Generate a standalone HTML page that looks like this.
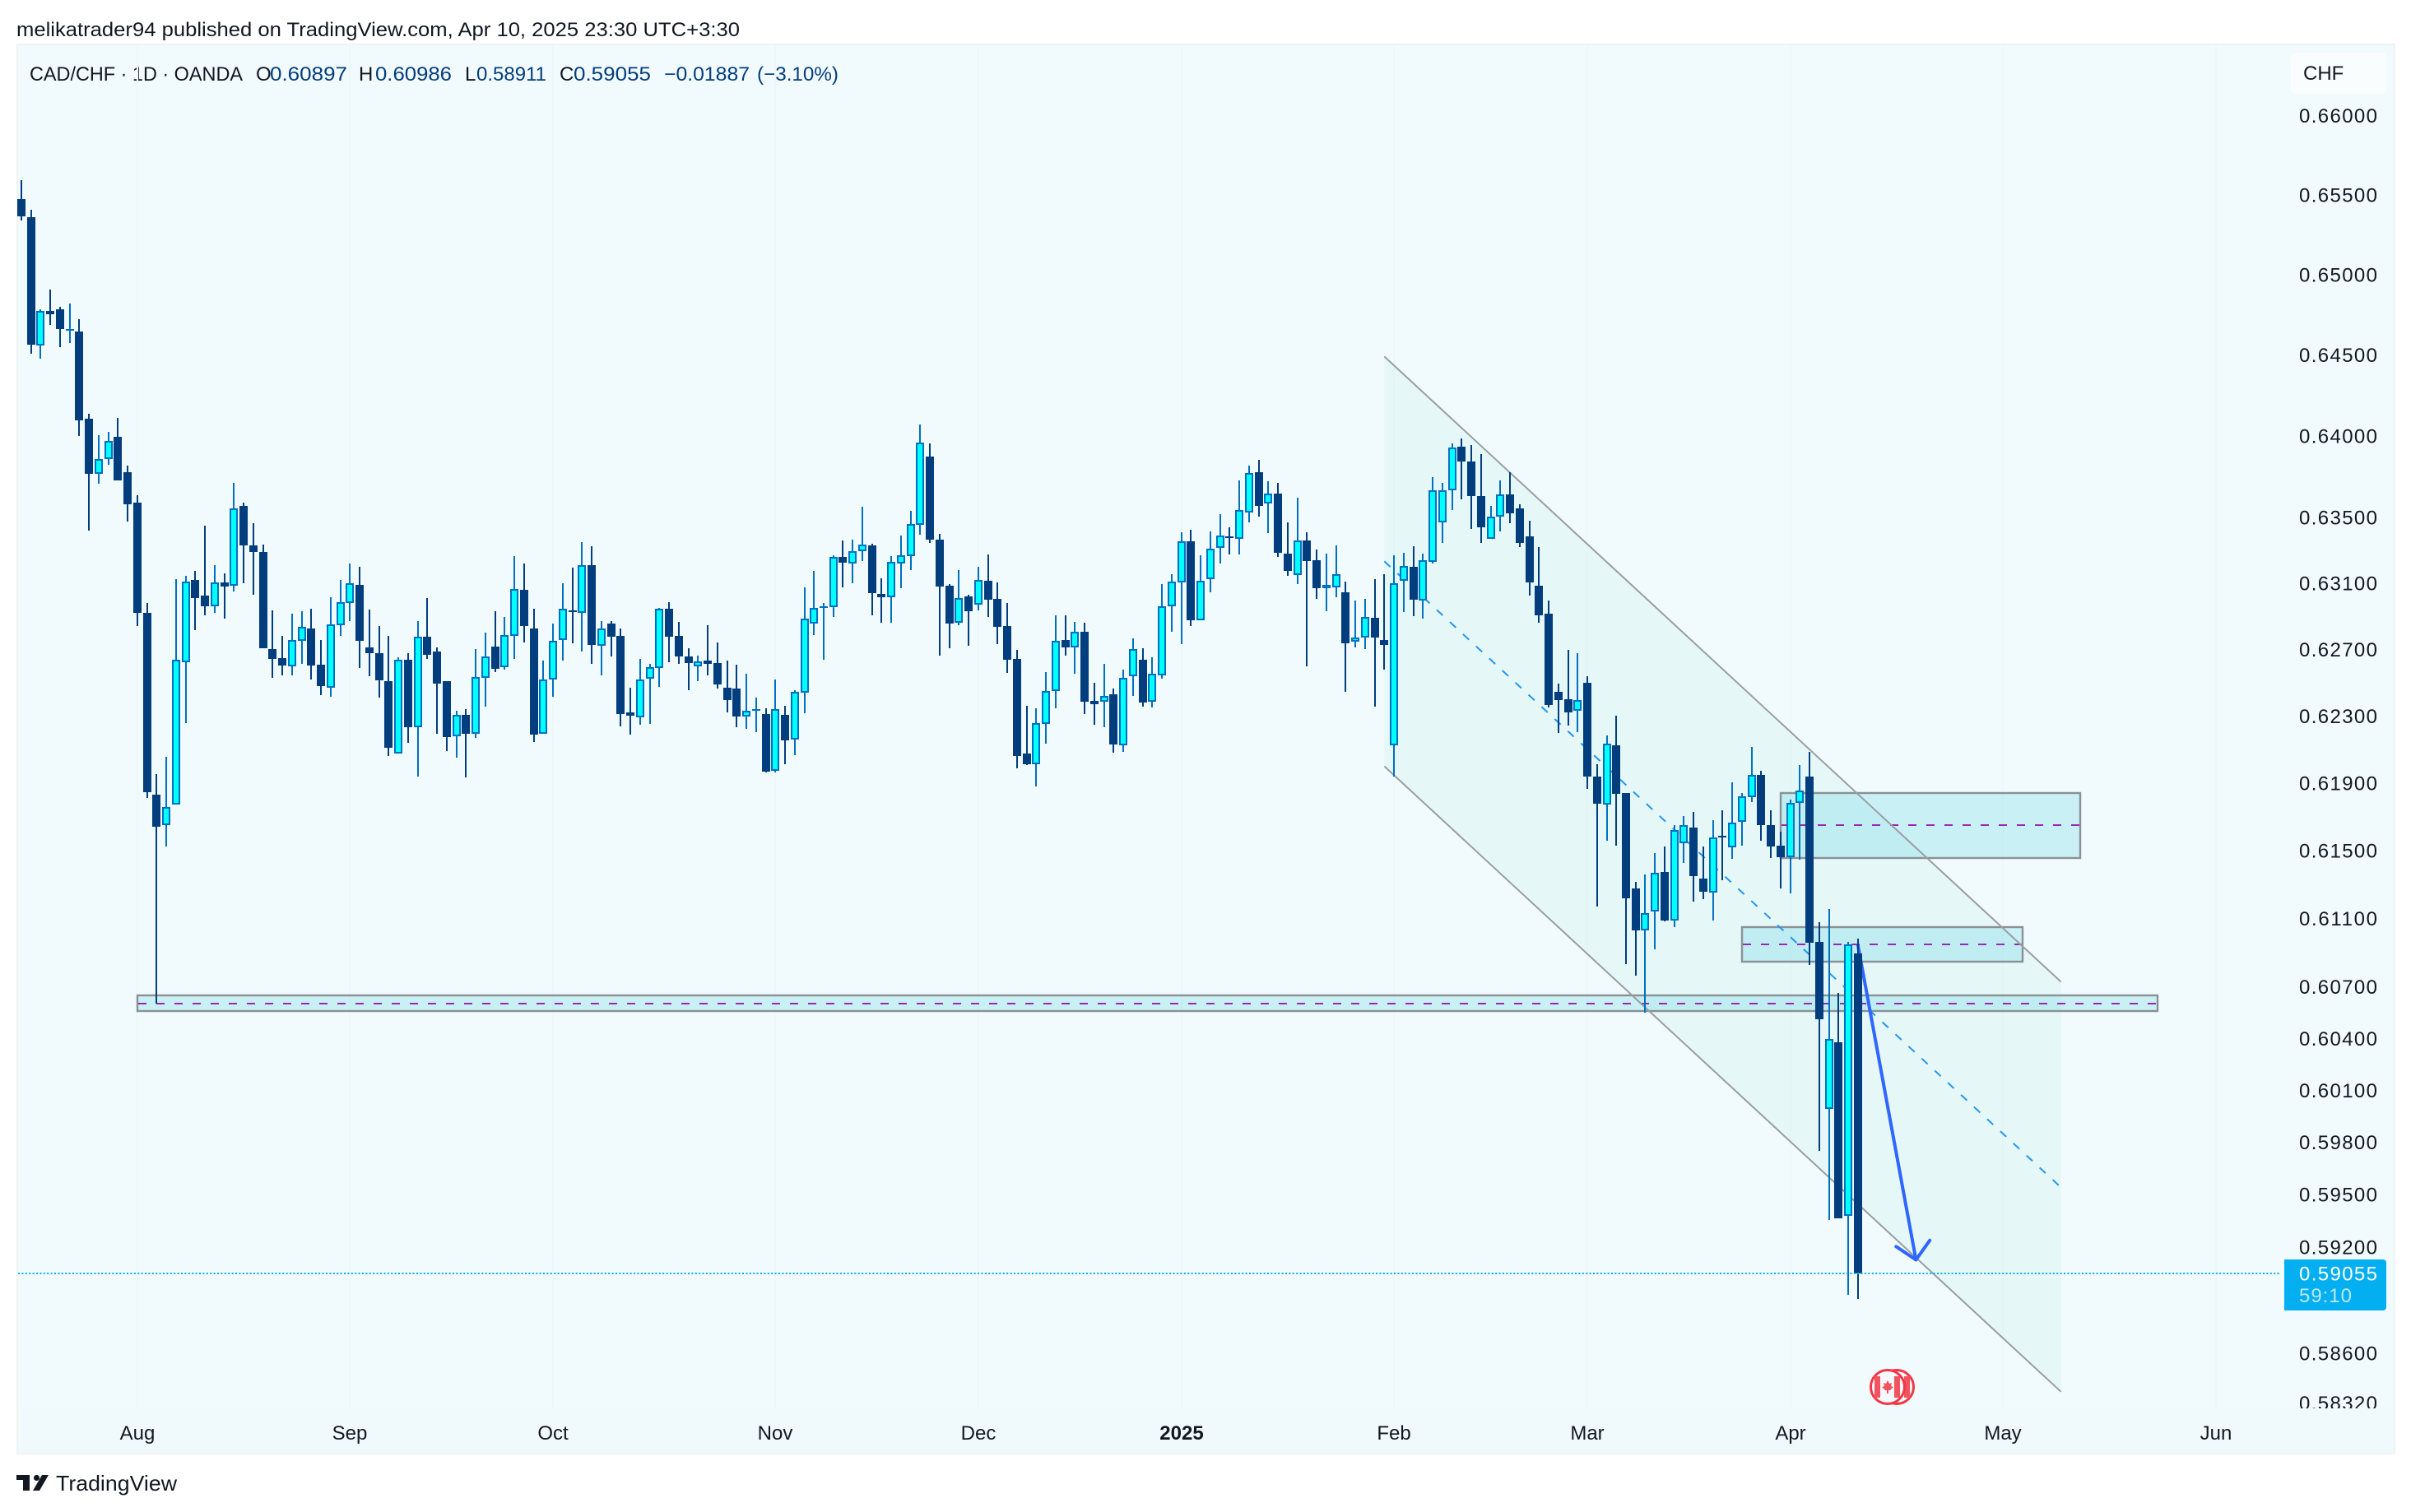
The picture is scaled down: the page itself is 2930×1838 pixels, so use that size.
<!DOCTYPE html>
<html lang="en">
<head>
<meta charset="utf-8">
<title>CAD/CHF 1D chart</title>
<style>
html,body{margin:0;padding:0;background:#fff;}
svg{display:block;font-family:"Liberation Sans",sans-serif;}
</style>
</head>
<body>
<svg id="chart" xmlns="http://www.w3.org/2000/svg" width="2930" height="1838" viewBox="0 0 2930 1838">
  <defs>
    <clipPath id="pane-clip"><rect x="20" y="53" width="2891" height="1659"/></clipPath>
  </defs>
  <rect x="0" y="0" width="2930" height="1838" fill="#ffffff"/>
  <rect x="21" y="54" width="2889" height="1713" fill="#F0F9FB" stroke="#EEF4F5" stroke-width="2"/>
  <rect x="22" y="55" width="2887" height="1657" fill="#F1FAFC"/>
  <text x="20" y="44" font-size="24" fill="#131722" textLength="879" lengthAdjust="spacingAndGlyphs">melikatrader94 published on TradingView.com, Apr 10, 2025 23:30 UTC+3:30</text>

  <g font-size="24">
    <text x="36" y="98" fill="#131722" textLength="259" lengthAdjust="spacingAndGlyphs">CAD/CHF · 1D · OANDA</text>
    <text x="311" y="98" fill="#131722">O</text>
    <text x="328" y="98" fill="#033E7E" textLength="94" lengthAdjust="spacingAndGlyphs">0.60897</text>
    <text x="436" y="98" fill="#131722">H</text>
    <text x="456" y="98" fill="#033E7E" textLength="93" lengthAdjust="spacingAndGlyphs">0.60986</text>
    <text x="565" y="98" fill="#131722">L</text>
    <text x="579" y="98" fill="#033E7E" textLength="85" lengthAdjust="spacingAndGlyphs">0.58911</text>
    <text x="680" y="98" fill="#131722">C</text>
    <text x="697" y="98" fill="#033E7E" textLength="94" lengthAdjust="spacingAndGlyphs">0.59055</text>
    <text x="807" y="98" fill="#033E7E" textLength="104" lengthAdjust="spacingAndGlyphs">−0.01887</text>
    <text x="920" y="98" fill="#033E7E" textLength="99" lengthAdjust="spacingAndGlyphs">(−3.10%)</text>
  </g>

  <g id="grid-layer"></g>
  <g id="drawing-layer" clip-path="url(#pane-clip)"></g>
  <g id="candle-layer" shape-rendering="crispEdges"></g>
  <g id="axis-layer" font-size="24" fill="#131722"></g>

  <rect x="2784" y="64" width="116" height="50" rx="6" fill="#F9FDFE"/>
  <text x="2799" y="97" font-size="24" fill="#131722">CHF</text>

  <g>
    <circle cx="2305" cy="1686" r="20.5" fill="#F7F9FD" stroke="#F23645" stroke-width="3"/>
    <rect x="2314" y="1673" width="7" height="26" fill="#F2545F"/>
    <circle cx="2294" cy="1686" r="20.5" fill="#F7F9FD" stroke="#F23645" stroke-width="3"/>
    <rect x="2278" y="1673" width="7" height="26" fill="#F2545F"/>
    <rect x="2302" y="1673" width="7" height="26" fill="#F2545F"/>
    <polygon points="2294,1678 2296,1682 2299,1681 2298,1685 2301,1686 2297,1690 2295,1690 2295,1694 2293,1694 2293,1690 2291,1690 2287,1686 2290,1685 2289,1681 2292,1682" fill="#F2545F"/>
  </g>

  <g>
    <path d="M20 1793H36V1812H28V1799H20Z" fill="#131722"/>
    <circle cx="44.5" cy="1796.5" r="3.6" fill="#131722"/>
    <path d="M51 1793H59L48 1812H40Z" fill="#131722"/>
    <text x="68" y="1812" font-size="26" fill="#131722" textLength="147" lengthAdjust="spacingAndGlyphs">TradingView</text>
  </g>
</svg>

<script>
const opens = [
0.65475,0.65361,0.64559,0.64774,0.64784,0.64656,0.64646,0.64107,0.63768,0.63859,
0.63995,0.63778,0.63592,0.62922,0.61832,0.61655,0.61773,0.62628,0.63121,0.63026,
0.62962,0.63106,0.63086,0.63572,0.63331,0.63291,0.62703,0.62653,0.62599,0.62753,
0.62827,0.62609,0.62475,0.62847,0.62982,0.63091,0.62713,0.62678,0.62510,0.62077,
0.62643,0.62234,0.62778,0.62688,0.62510,0.62180,0.62308,0.62199,0.62530,0.62718,
0.62594,0.62787,0.63061,0.62827,0.62195,0.62520,0.62758,0.62937,0.62922,0.63211,
0.62723,0.62857,0.62787,0.62323,0.62293,0.62525,0.62589,0.62947,0.62783,0.62663,
0.62599,0.62638,0.62623,0.62471,0.62466,0.62298,0.62333,0.62313,0.61974,0.62308,
0.62160,0.62441,0.62857,0.62952,0.62957,0.63262,0.63221,0.63296,0.63331,0.63036,
0.63017,0.63221,0.63266,0.63457,0.63874,0.63366,0.63086,0.62862,0.63021,0.62972,
0.63116,0.63007,0.62842,0.62648,0.62077,0.62013,0.62258,0.62451,0.62758,0.62713,
0.62807,0.62392,0.62387,0.62431,0.62126,0.62540,0.62643,0.62387,0.62545,0.62962,
0.63106,0.63356,0.62877,0.63126,0.63316,0.63386,0.63371,0.63532,0.63778,0.63587,
0.63647,0.63281,0.63151,0.63361,0.63241,0.63071,0.63076,0.63046,0.62748,0.62773,
0.62892,0.62758,0.62126,0.63116,0.63201,0.62997,0.63231,0.63472,0.63667,0.63935,
0.63844,0.63632,0.63371,0.63507,0.63642,0.63557,0.63386,0.63086,0.62917,0.62446,
0.62402,0.62333,0.62500,0.61940,0.61773,0.62126,0.61842,0.61277,0.61031,0.61146,
0.61374,0.61093,0.61544,0.61641,0.61335,0.61253,0.61592,0.61520,0.61675,0.61817,
0.61949,0.61655,0.61534,0.61466,0.61783,0.61940,0.60963,0.59993,0.60378,0.59383,
0.60897];
const highs = [
0.65594,0.65407,0.64784,0.64908,0.64800,0.64820,0.64723,0.64137,0.64005,0.64026,
0.64112,0.63819,0.63637,0.62982,0.61954,0.62057,0.63126,0.63146,0.63176,0.63452,
0.63212,0.63162,0.63713,0.63592,0.63467,0.63336,0.62937,0.62783,0.62917,0.62932,
0.62947,0.62758,0.63017,0.63121,0.63221,0.63202,0.62942,0.62842,0.62787,0.62658,
0.62678,0.62872,0.63012,0.62713,0.62510,0.62333,0.62343,0.62703,0.62802,0.62932,
0.62897,0.63267,0.63222,0.62947,0.62638,0.62857,0.63101,0.63196,0.63351,0.63326,
0.62872,0.62872,0.62827,0.62475,0.62648,0.62618,0.62952,0.62987,0.62867,0.62708,
0.62668,0.62847,0.62743,0.62638,0.62609,0.62559,0.62411,0.62347,0.62520,0.62362,
0.62456,0.63076,0.63176,0.62982,0.63272,0.63361,0.63366,0.63567,0.63341,0.63131,
0.63266,0.63391,0.63542,0.64071,0.63955,0.63402,0.63096,0.63181,0.63031,0.63201,
0.63277,0.63106,0.62982,0.62698,0.62362,0.62347,0.62569,0.62907,0.62907,0.62867,
0.62862,0.62500,0.62618,0.62466,0.62579,0.62772,0.62708,0.62658,0.63096,0.63156,
0.63412,0.63427,0.63272,0.63417,0.63522,0.63442,0.63728,0.63819,0.63854,0.63723,
0.63713,0.63472,0.63622,0.63412,0.63306,0.63281,0.63331,0.63111,0.62997,0.63007,
0.63126,0.63156,0.63272,0.63287,0.63326,0.63281,0.63748,0.63713,0.63955,0.63985,
0.63945,0.63889,0.63572,0.63728,0.63778,0.63582,0.63482,0.63321,0.62997,0.62495,
0.62698,0.62678,0.62540,0.62013,0.62185,0.62303,0.61842,0.61316,0.61360,0.61486,
0.61525,0.61655,0.61709,0.61729,0.61525,0.61685,0.61739,0.61905,0.61846,0.62116,
0.61974,0.61743,0.61612,0.61807,0.62008,0.62091,0.61079,0.61156,0.60665,0.60963,
0.60986];
const lows = [
0.65340,0.64508,0.64478,0.64687,0.64549,0.64579,0.64000,0.63422,0.63708,0.63824,
0.63728,0.63477,0.62842,0.61812,0.60607,0.61525,0.61773,0.62263,0.62817,0.62907,
0.62922,0.62887,0.63051,0.63101,0.63031,0.62708,0.62530,0.62549,0.62549,0.62618,
0.62520,0.62426,0.62416,0.62787,0.62872,0.62589,0.62540,0.62411,0.62062,0.62077,
0.62145,0.61944,0.62648,0.62199,0.62096,0.62052,0.61935,0.62170,0.62357,0.62569,
0.62579,0.62648,0.62743,0.62150,0.62195,0.62416,0.62638,0.62738,0.62688,0.62618,
0.62545,0.62663,0.62239,0.62190,0.62249,0.62254,0.62480,0.62628,0.62614,0.62456,
0.62510,0.62549,0.62466,0.62323,0.62234,0.62224,0.62209,0.61964,0.61964,0.62013,
0.62067,0.62318,0.62792,0.62643,0.62897,0.63076,0.63101,0.63236,0.62907,0.62862,
0.62862,0.63071,0.63181,0.63396,0.63346,0.62668,0.62708,0.62847,0.62723,0.62937,
0.62897,0.62733,0.62564,0.61989,0.62008,0.61881,0.62136,0.62347,0.62668,0.62559,
0.62313,0.62249,0.62234,0.62082,0.62087,0.62421,0.62357,0.62352,0.62525,0.62807,
0.62733,0.62842,0.62877,0.63046,0.63221,0.63276,0.63276,0.63472,0.63507,0.63407,
0.63261,0.63146,0.63096,0.62599,0.63007,0.62932,0.63017,0.62446,0.62713,0.62703,
0.62357,0.62579,0.61944,0.62927,0.62902,0.62887,0.63221,0.63346,0.63547,0.63612,
0.63432,0.63346,0.63371,0.63417,0.63467,0.63321,0.63026,0.62862,0.62352,0.62204,
0.62244,0.62209,0.61866,0.61171,0.61563,0.61534,0.60833,0.60766,0.60550,0.60920,
0.61084,0.61050,0.61432,0.61204,0.61214,0.61089,0.61330,0.61452,0.61534,0.61792,
0.61563,0.61461,0.61277,0.61248,0.61447,0.60828,0.59751,0.59360,0.59365,0.58931,
0.58911];
const closes = [
0.65366,0.64564,0.64774,0.64753,0.64666,0.64666,0.64101,0.63768,0.63859,0.63970,
0.63728,0.63582,0.62922,0.61851,0.61646,0.61763,0.62643,0.63111,0.63012,0.62962,
0.63106,0.63081,0.63557,0.63331,0.63291,0.62708,0.62648,0.62604,0.62758,0.62837,
0.62604,0.62485,0.62852,0.62987,0.63101,0.62753,0.62678,0.62515,0.62111,0.62643,
0.62234,0.62778,0.62673,0.62495,0.62175,0.62308,0.62199,0.62535,0.62663,0.62584,
0.62792,0.63066,0.62842,0.62190,0.62520,0.62753,0.62947,0.62927,0.63211,0.62728,
0.62827,0.62778,0.62313,0.62303,0.62520,0.62594,0.62947,0.62778,0.62663,0.62623,
0.62633,0.62614,0.62490,0.62397,0.62298,0.62333,0.62343,0.61969,0.62343,0.62155,
0.62446,0.62887,0.62952,0.62962,0.63262,0.63226,0.63296,0.63336,0.63041,0.63017,
0.63231,0.63271,0.63462,0.63960,0.63366,0.63081,0.62857,0.63012,0.62932,0.63121,
0.63002,0.62837,0.62643,0.62062,0.62013,0.62263,0.62451,0.62753,0.62713,0.62807,
0.62387,0.62372,0.62421,0.62131,0.62530,0.62703,0.62382,0.62559,0.62962,0.63111,
0.63356,0.62877,0.63116,0.63311,0.63391,0.63376,0.63547,0.63773,0.63572,0.63647,
0.63286,0.63176,0.63361,0.63236,0.63071,0.63091,0.63156,0.62738,0.62773,0.62897,
0.62773,0.62728,0.63101,0.63206,0.63002,0.63241,0.63667,0.63667,0.63930,0.63844,
0.63632,0.63442,0.63507,0.63642,0.63527,0.63346,0.63106,0.62907,0.62367,0.62397,
0.62323,0.62397,0.61940,0.61778,0.62136,0.61837,0.61219,0.61031,0.61132,0.61369,
0.61093,0.61626,0.61651,0.61350,0.61258,0.61578,0.61583,0.61670,0.61822,0.61949,
0.61651,0.61529,0.61466,0.61783,0.61856,0.60958,0.60512,0.60397,0.59369,0.60949,
0.59055];

const priceTicks = [0.66,0.655,0.65,0.645,0.64,0.635,0.631,0.627,0.623,0.619,0.615,0.611,0.607,0.604,0.601,0.598,0.595,0.592,0.586,0.5832];
const priceTickLabels = ["0.66000","0.65500","0.65000","0.64500","0.64000","0.63500","0.63100","0.62700","0.62300","0.61900","0.61500","0.61100","0.60700","0.60400","0.60100","0.59800","0.59500","0.59200","0.58600","0.58320"];
const monthLabels = ["Aug","Sep","Oct","Nov","Dec","2025","Feb","Mar","Apr","May","Jun"];
const monthBars = [12,34,55,78,99,120,142,162,183,205,227];
const countdownLabel = "59:10";

const channelBars = [141,211];
const channelUpper = [0.64493,0.60732];
const channelMiddle = [0.63236,0.59544];
const channelLower = [0.62003,0.58386];

const zoneNames = ["support-zone-long","supply-zone-middle","supply-zone-upper"];
const zoneStartBars = [12,178,182];
const zoneEndBars = [221,207,213];
const zoneTops = [0.60655,0.61050,0.61842];
const zoneMids = [0.60607,0.60949,0.61651];
const zoneBottoms = [0.60560,0.60848,0.61457];

const arrowBars = [190,196];
const arrowPrices = [0.60944,0.59131];

const NS = "http://www.w3.org/2000/svg";
const PRICE_ANCHOR = 0.619;
const PRICE_ANCHOR_Y = 952.5;
const PX_PER_LOG = 12650;
const PANE_TOP = 55;
const PANE_BOTTOM = 1712;
const COLOR_BEAR = "#023E7D";
const COLOR_BULL_EDGE = "#0070C0";
const COLOR_BULL_FILL = "#00FFFF";
const COLOR_LAST = "#03AFF0";

function xOf(bar){ return 26 + 11.747 * bar; }
function yOf(price){ return PRICE_ANCHOR_Y - PX_PER_LOG * Math.log(price / PRICE_ANCHOR); }
function mk(tag, parent){
  const el = document.createElementNS(NS, tag);
  parent.appendChild(el);
  return el;
}
function setLine(el, x1, y1, x2, y2){
  el.setAttribute("x1", x1);
  el.setAttribute("y1", y1);
  el.setAttribute("x2", x2);
  el.setAttribute("y2", y2);
}

const gridLayer = document.getElementById("grid-layer");
const drawingLayer = document.getElementById("drawing-layer");
const candleLayer = document.getElementById("candle-layer");
const axisLayer = document.getElementById("axis-layer");

/* month gridlines and time axis */
monthLabels.forEach(function(label, i){
  const x = Math.round(xOf(monthBars[i]));
  const line = mk("line", gridLayer);
  setLine(line, x, PANE_TOP, x, PANE_BOTTOM);
  line.setAttribute("stroke", "#EEF7F9");
  line.setAttribute("stroke-width", "2");
  
  

  const tick = mk("text", axisLayer);
  tick.setAttribute("x", x);
  tick.setAttribute("y", 1750);
  tick.setAttribute("text-anchor", "middle");
  if (label === "2025") tick.setAttribute("font-weight", "700");
  
  
  tick.textContent = label;
});

/* price axis */
const priceClip = mk("g", axisLayer);
priceClip.setAttribute("clip-path", "url(#pane-clip)");


priceTicks.forEach(function(price, i){
  const t = mk("text", priceClip);
  t.setAttribute("x", 2794);
  t.setAttribute("y", yOf(price) + 8);
  t.setAttribute("textLength", 95);
  
  
  t.textContent = priceTickLabels[i];
});

/* channel fill and lines */
const chX1 = xOf(channelBars[0]);
const chX2 = xOf(channelBars[1]);
const chFill = mk("polygon", drawingLayer);
chFill.setAttribute("points",
  chX1 + "," + yOf(channelUpper[0]) + " " +
  chX2 + "," + yOf(channelUpper[1]) + " " +
  chX2 + "," + yOf(channelLower[1]) + " " +
  chX1 + "," + yOf(channelLower[0]));
chFill.setAttribute("fill", "rgba(0,190,170,0.045)");



/* zones */
zoneNames.forEach(function(name, i){
  const x1 = Math.round(xOf(zoneStartBars[i]));
  const x2 = Math.round(xOf(zoneEndBars[i]));
  const yt = Math.round(yOf(zoneTops[i]));
  const yb = Math.round(yOf(zoneBottoms[i]));
  const ym = Math.round(yOf(zoneMids[i]));
  const box = mk("rect", drawingLayer);
  box.setAttribute("x", x1);
  box.setAttribute("y", yt);
  box.setAttribute("width", x2 - x1);
  box.setAttribute("height", yb - yt);
  box.setAttribute("fill", "rgba(0,188,212,0.17)");
  box.setAttribute("stroke", "#8A9196");
  box.setAttribute("stroke-width", "2.4");
  
  
  const mid = mk("line", drawingLayer);
  setLine(mid, x1 + 1, ym, x2 - 1, ym);
  mid.setAttribute("stroke", "#9C27B0");
  mid.setAttribute("stroke-width", "2");
  mid.setAttribute("stroke-dasharray", "10 12");
  
  
});

const chUp = mk("line", drawingLayer);
setLine(chUp, chX1, yOf(channelUpper[0]), chX2, yOf(channelUpper[1]));
chUp.setAttribute("stroke", "#9A9EA1");
chUp.setAttribute("stroke-width", "2");



const chLow = mk("line", drawingLayer);
setLine(chLow, chX1, yOf(channelLower[0]), chX2, yOf(channelLower[1]));
chLow.setAttribute("stroke", "#9A9EA1");
chLow.setAttribute("stroke-width", "2");



const chMid = mk("line", drawingLayer);
setLine(chMid, chX1, yOf(channelMiddle[0]), chX2, yOf(channelMiddle[1]));
chMid.setAttribute("stroke", "#2196F3");
chMid.setAttribute("stroke-width", "2");
chMid.setAttribute("stroke-dasharray", "10 11.7");



/* forecast arrow */
const arX1 = xOf(arrowBars[0]);
const arY1 = yOf(arrowPrices[0]);
const arX2 = xOf(arrowBars[1]);
const arY2 = yOf(arrowPrices[1]);
const arrowLine = mk("line", drawingLayer);
setLine(arrowLine, arX1, arY1, arX2, arY2);
arrowLine.setAttribute("stroke", "#2E66FF");
arrowLine.setAttribute("stroke-width", "4");
arrowLine.setAttribute("stroke-linecap", "round");



const arAngle = Math.atan2(arY1 - arY2, arX1 - arX2);
[-1, 1].forEach(function(side){
  const a = arAngle + side * 0.8;
  const arm = mk("line", drawingLayer);
  setLine(arm, arX2, arY2, arX2 + 29 * Math.cos(a), arY2 + 29 * Math.sin(a));
  arm.setAttribute("stroke", "#2E66FF");
  arm.setAttribute("stroke-width", "4");
  arm.setAttribute("stroke-linecap", "round");
  
  
});

/* candles */
closes.forEach(function(close, i){
  const open = opens[i];
  const bull = close >= open;
  const cx = Math.round(xOf(i));
  const yHigh = Math.round(yOf(highs[i]));
  const yLow = Math.round(yOf(lows[i]));
  const yTop = Math.round(yOf(Math.max(open, close)));
  const yBot = Math.round(yOf(Math.min(open, close)));
  const bodyH = Math.max(2, yBot - yTop);

  const wick = mk("rect", candleLayer);
  wick.setAttribute("x", cx - 1);
  wick.setAttribute("y", yHigh);
  wick.setAttribute("width", 2);
  wick.setAttribute("height", Math.max(1, yLow - yHigh));
  wick.setAttribute("fill", bull ? COLOR_BULL_EDGE : COLOR_BEAR);
  
  

  const body = mk("rect", candleLayer);
  body.setAttribute("x", cx - 5);
  body.setAttribute("y", yTop);
  body.setAttribute("width", 10);
  body.setAttribute("height", bodyH);
  body.setAttribute("fill", bull ? COLOR_BULL_EDGE : COLOR_BEAR);
  
  

  if (bull && bodyH > 4) {
    const inner = mk("rect", candleLayer);
    inner.setAttribute("x", cx - 3);
    inner.setAttribute("y", yTop + 2);
    inner.setAttribute("width", 6);
    inner.setAttribute("height", bodyH - 4);
    inner.setAttribute("fill", COLOR_BULL_FILL);
    
    
  }
});

/* last price line and tag */
const lastClose = closes[closes.length - 1];
const lastY = Math.round(yOf(lastClose));
const lastLine = mk("line", axisLayer);
setLine(lastLine, 22, lastY, 2771, lastY);
lastLine.setAttribute("stroke", COLOR_LAST);
lastLine.setAttribute("stroke-width", "2");
lastLine.setAttribute("stroke-dasharray", "2 2.4");



const lastTag = mk("path", axisLayer);
lastTag.setAttribute("d", "M2776 " + (lastY - 17) + "H2896a4 4 0 0 1 4 4V" + (lastY + 41) + "a4 4 0 0 1 -4 4H2776Z");
lastTag.setAttribute("fill", COLOR_LAST);



const lastText = mk("text", axisLayer);
lastText.setAttribute("x", 2794);
lastText.setAttribute("y", lastY + 8.5);
lastText.setAttribute("textLength", 95);
lastText.setAttribute("fill", "#ffffff");


lastText.textContent = lastClose.toFixed(5);

const countText = mk("text", axisLayer);
countText.setAttribute("x", 2794);
countText.setAttribute("y", lastY + 35);
countText.setAttribute("textLength", 64);
countText.setAttribute("fill", "#B8E8FB");


countText.textContent = countdownLabel;
</script>
</body>
</html>
